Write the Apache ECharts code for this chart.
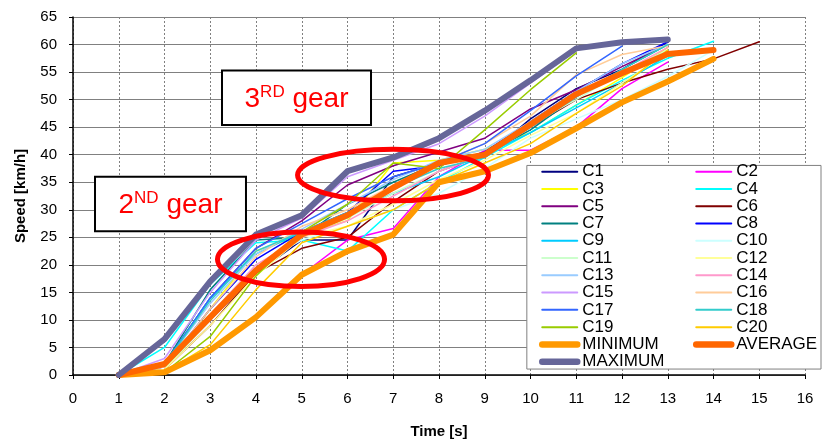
<!DOCTYPE html>
<html><head><meta charset="utf-8">
<script src="https://cdn.jsdelivr.net/npm/echarts@6/dist/echarts.min.js"></script>
<style>html,body{margin:0;padding:0;background:#fff}#c{width:823px;height:444px}</style>
</head><body><div id="c"></div>
<script>
// ---- data (speed in km/h at time t = 1, 2, 3, ... s) ----
const times = [1,2,3,4,5,6,7,8,9,10,11,12,13,14,15];
const C1  = [0, 1.5, 10, 18.5, 24.5, 24.5, 36, 38.5, 39.5, 46.5, 52, 55.5, 60.5];
const C2  = [0, 0.5, 4.5, 10.5, 18.2, 24.5, 26.6, 36, 40.8, 40.8, 45, 52, 56.8];
const C3  = [0, 1, 12, 22.5, 25.5, 28, 38.5, 39, 41, 44, 49, 54, 59.5];
const C4  = [0, 5, 16.5, 24, 24.5, 22.5, 30, 35, 39.5, 44, 49, 53.5, 57.5, 60.6];
const C5  = [0, 2, 14, 23, 28, 34.5, 38, 40.5, 43, 48.3, 51.8, 56, 60];
const C6  = [0, 1, 9, 18.5, 23, 25, 31.5, 37, 40, 45, 50, 53, 55.5, 57.4, 60.5];
const C7  = [0, 2, 15.5, 24.5, 25, 31, 35, 38.5, 40, 44.5, 50.5, 55.5, 60];
const C8  = [0, 1.5, 12, 21, 26, 29.5, 37, 38, 40.5, 46, 51.5, 56.5, 60.5];
const C9  = [0, 2, 14, 22, 26, 29, 33, 36, 40, 44, 48.5, 53, 58];
const C10 = [0, 1.5, 11, 20, 24.5, 27, 30, 33, 37.5, 43, 46.5, 50, 54.2, 59];
const C11 = [0, 1, 10, 19, 25, 28.5, 33, 37, 40, 45.5, 50, 55, 59];
const C12 = [0, 1, 9, 18, 25, 27, 31, 35.5, 39, 43.5, 47.5, 53, 58.5];
const C13 = [0, 2, 13, 22, 26.5, 31, 35.5, 39, 41, 46, 51.5, 56.5, 60];
const C14 = [0, 1.5, 11, 20, 25, 28, 32.5, 37, 40, 45, 50.5, 55, 59.5];
const C15 = [0, 3, 15, 24.5, 28.5, 36, 39, 42, 47, 53, 59];
const C16 = [0, 1.5, 12, 21.5, 27, 30, 34.5, 38.5, 42, 47, 54.5, 58.2, 59.8];
const C17 = [0, 2, 14, 23, 27.5, 32, 36, 38.5, 42, 48, 54.3, 59.7];
const C18 = [0, 2, 13.5, 22.5, 26, 29.5, 34, 37.5, 39.5, 45, 50.5, 55.5, 60];
const C19 = [0, 0.5, 7, 18, 26, 31, 38.5, 37.5, 44.5, 51.8, 58.5];
const C20 = [0, 0.5, 5.5, 15.5, 24, 27, 30, 35, 38.5, 42, 47.5, 52.5, 59];
const MINIMUM = [0, 0.5, 4.5, 10.5, 18.2, 22.5, 25.5, 35, 37, 40.3, 44.8, 49.5, 53.3, 57.4];
const AVERAGE = [0, 2, 10.5, 19, 25.5, 29, 34, 38.5, 40, 45.5, 51, 54.8, 58.3, 59];
const MAXIMUM = [0, 6.5, 17, 25.5, 29, 37, 39.5, 43, 48, 53.5, 59.3, 60.4, 60.9];

const seriesNames = ['C1','C2','C3','C4','C5','C6','C7','C8','C9','C10','C11','C12','C13','C14','C15','C16','C17','C18','C19','C20','MINIMUM','AVERAGE','MAXIMUM'];
const seriesValues = [C1,C2,C3,C4,C5,C6,C7,C8,C9,C10,C11,C12,C13,C14,C15,C16,C17,C18,C19,C20,MINIMUM,AVERAGE,MAXIMUM];
const seriesColors = ['#000080','#FF00FF','#FFFF00','#00FFFF','#800080','#800000','#008080','#0000FF','#00CCFF','#CCFFFF','#CCFFCC','#FFFF99','#99CCFF','#FF99CC','#CC99FF','#FFCC99','#3366FF','#33CCCC','#99CC00','#FFCC00','#FF9900','#FF6600','#666699'];
const thickNames = ['MINIMUM','AVERAGE','MAXIMUM'];

const xAxisName = 'Time [s]';
const yAxisName = 'Speed [km/h]';
const legendLeftCol = ['C1','C3','C5','C7','C9','C11','C13','C15','C17','C19','MINIMUM','MAXIMUM'];
const legendRightCol = ['C2','C4','C6','C8','C10','C12','C14','C16','C18','C20','AVERAGE'];

const FONT = '"Liberation Sans", Arial, sans-serif';

const series = seriesNames.map((name, k) => {
  const thick = thickNames.indexOf(name) >= 0;
  return {
    name: name,
    type: 'line',
    data: seriesValues[k].map((v, i) => [times[i], v]),
    symbol: 'none',
    color: seriesColors[k],
    lineStyle: { width: thick ? 6 : 1.5, color: seriesColors[k], cap: 'round', join: 'round' },
    z: thick ? 3 : 2,
    silent: true
  };
});

function legendData(list) {
  return list.map(n => thickNames.indexOf(n) >= 0
    ? { name: n, lineStyle: { width: 6.5, cap: 'round' } }
    : { name: n, lineStyle: { width: 2 } });
}

const chart = echarts.init(document.getElementById('c'), null, { renderer: 'canvas' });
const legendCommon = {
  orient: 'vertical', top: 163.2, padding: 0, itemGap: 0.27,
  itemWidth: 35, itemHeight: 10, selectedMode: false,
  itemStyle: { color: 'rgba(0,0,0,0)', borderColor: 'rgba(0,0,0,0)', borderWidth: 0, opacity: 0 },
  textStyle: { fontFamily: FONT, fontSize: 17, color: '#000', lineHeight: 17 }, z: 5
};
chart.setOption({
  animation: false,
  backgroundColor: '#fff',
  grid: { left: 73, right: 18, top: 17, bottom: 66, containLabel: false },
  xAxis: {
    type: 'value', min: 0, max: 16, interval: 1,
    name: xAxisName, nameLocation: 'middle', nameGap: 49,
    nameTextStyle: { fontFamily: FONT, fontSize: 15, fontWeight: 'bold', color: '#000' },
    axisLine: { show: true, onZero: false, lineStyle: { color: '#000', width: 1.5 } },
    axisTick: { show: true, length: 4, lineStyle: { color: '#000' } },
    axisLabel: { fontFamily: FONT, fontSize: 15, color: '#000', margin: 16 },
    splitLine: { show: true, lineStyle: { color: '#808080', type: [2, 2], width: 1 } }
  },
  yAxis: {
    type: 'value', min: 0, max: 65, interval: 5,
    name: yAxisName, nameLocation: 'middle', nameGap: 45,
    nameTextStyle: { fontFamily: FONT, fontSize: 15, fontWeight: 'bold', color: '#000' },
    axisLine: { show: true, lineStyle: { color: '#000', width: 1.5 } },
    axisTick: { show: true, length: 4, lineStyle: { color: '#000' } },
    axisLabel: { fontFamily: FONT, fontSize: 15, color: '#000', margin: 16 },
    splitLine: { show: true, lineStyle: { color: '#808080', width: 1 } }
  },
  legend: [
    Object.assign({}, legendCommon, { left: 539, data: legendData(legendLeftCol) }),
    Object.assign({}, legendCommon, { left: 693, data: legendData(legendRightCol) })
  ],
  series: series
});

// ---- annotations anchored in data space ----
function px(x, y) { return chart.convertToPixel({ gridIndex: 0 }, [x, y]); }
function boxFrom(x1, y1, x2, y2) {
  const a = px(x1, y1), b = px(x2, y2);
  return { x: a[0], y: a[1], width: b[0] - a[0], height: b[1] - a[1] };
}
const legendBox = boxFrom(9.92, 38.05, 16.35, 1.08);
const box3 = boxFrom(3.257, 55.27, 6.514, 45.37);
const box2 = boxFrom(0.481, 36.01, 3.781, 26.11);
const eUp = px(6.995, 36.3), eLo = px(4.984, 21.0);
const unitX = px(1, 0)[0] - px(0, 0)[0];
const unitY = px(0, 0)[1] - px(0, 1)[1];

function gearText(box, num, sup) {
  return {
    type: 'text', z: 21,
    style: {
      x: box.x + box.width / 2, y: box.y + box.height / 2 + 1,
      align: 'center', verticalAlign: 'middle',
      text: '{n|' + num + '}{s|' + sup + '}{n| gear}',
      rich: {
        n: { fontFamily: FONT, fontSize: 28, fill: '#FF0000', lineHeight: 30 },
        s: { fontFamily: FONT, fontSize: 17, fill: '#FF0000', verticalAlign: 'top', lineHeight: 18 }
      }
    }
  };
}

chart.setOption({
  graphic: [
    { type: 'rect', z: 4, shape: legendBox, style: { fill: '#fff', stroke: '#808080', lineWidth: 1 } },
    { type: 'ellipse', z: 20, shape: { cx: eLo[0], cy: eLo[1], rx: 1.826 * unitX, ry: 4.95 * unitY }, style: { fill: 'none', stroke: '#FF0000', lineWidth: 5 } },
    { type: 'ellipse', z: 20, shape: { cx: eUp[0], cy: eUp[1], rx: 2.087 * unitX, ry: 4.68 * unitY }, style: { fill: 'none', stroke: '#FF0000', lineWidth: 5 } },
    { type: 'rect', z: 20, shape: box3, style: { fill: '#fff', stroke: '#000', lineWidth: 2 } },
    { type: 'rect', z: 20, shape: box2, style: { fill: '#fff', stroke: '#000', lineWidth: 2 } },
    gearText(box3, '3', 'RD'),
    gearText(box2, '2', 'ND')
  ]
});
</script>
</body></html>
